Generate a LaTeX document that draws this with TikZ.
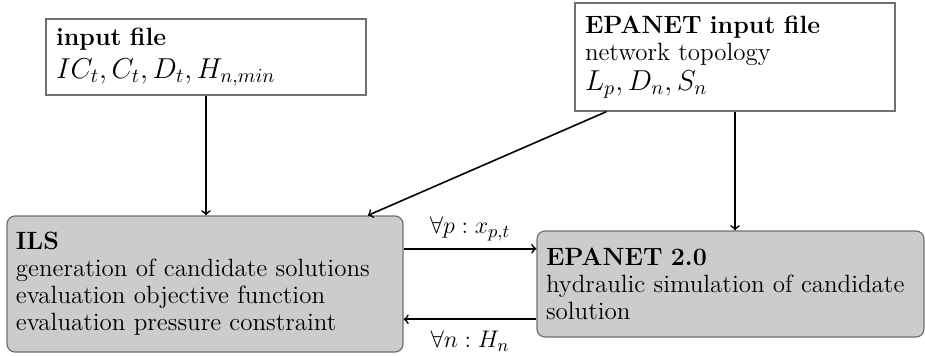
\documentclass[tikz,border=0pt]{standalone}
\usetikzlibrary{calc}
\definecolor{bordergray}{HTML}{707070}
\definecolor{boxfill}{HTML}{CCCCCC}
\newcommand{\bigmath}[1]{{\fontsize{14}{13.5}\selectfont$#1$}}
\tikzset{
  filebox/.style={draw=bordergray, line width=0.6pt, fill=white, inner xsep=5pt, inner ysep=2pt, align=left},
  procbox/.style={draw=bordergray, line width=0.6pt, fill=boxfill, rounded corners=4pt, inner xsep=4.5pt, inner ysep=2pt, align=left},
  arr/.style={->, line width=0.8pt},
  lbl/.style={inner sep=3.5pt}
}
\begin{document}
\begin{tikzpicture}[x=0.5pt, y=-0.5pt, font=\fontsize{12.5}{13.5}\selectfont]
\useasboundingbox (0,0) rectangle (925,355);

\node[filebox, text width=150pt, minimum height=38pt] (inp) at (206,57)
  {\textbf{input file}\\[3pt] \bigmath{IC_t, C_t, D_t, H_{n,min}}};
\node[filebox, text width=150pt, minimum height=54pt] (epin) at (735,57)
  {\textbf{EPANET input file}\\ network topology\\[1.5pt] \bigmath{L_p, D_n, S_n}};
\node[procbox, text width=189pt, minimum height=68pt] (ils) at (205,284)
  {\textbf{ILS}\\ generation of candidate solutions\\ evaluation objective function\\ evaluation pressure constraint};
\node[procbox, text width=184.5pt, minimum height=53pt] (sim) at (730.5,284)
  {\textbf{EPANET 2.0}\\ hydraulic simulation of candidate\\ solution};

\draw[arr] (inp.south) -- (inp.south |- ils.north);
\draw[arr] (epin.south) -- (epin.south |- sim.north);
\coordinate (d1) at ($(epin.south west)!0.1!(epin.south east)$);
\coordinate (d2) at ($(ils.north west)!0.91!(ils.north east)$);
\draw[arr] (d1) -- (d2);

\coordinate (t1) at ($(ils.north east)!0.243!(ils.south east)$);
\coordinate (b1) at ($(ils.north east)!0.757!(ils.south east)$);
\draw[arr] (t1) -- node[lbl, above] (lt) {$\forall p : x_{p,t}$} (t1 -| sim.west);
\draw[arr] (b1 -| sim.west) -- node[lbl, below=2pt] (lb) {$\forall n : H_n$} (b1);
\end{tikzpicture}
\end{document}
